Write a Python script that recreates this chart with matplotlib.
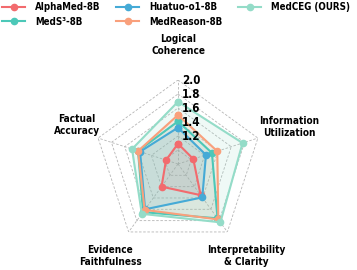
import numpy as np
import matplotlib
matplotlib.use("Agg")
import matplotlib.pyplot as plt
from matplotlib import transforms

categories = ["Logical\nCoherence", "Information\nUtilization", "Interpretability\n& Clarity",
              "Evidence\nFaithfulness", "Factual\nAccuracy"]
models = ["AlphaMed-8B", "MedS³-8B", "Huatuo-o1-8B", "MedReason-8B", "MedCEG (OURS)"]
alphamed = [1.09, 1.03, 1.35, 1.20, 0.98]
meds3 = [1.41, 1.31, 1.76, 1.65, 1.40]
huatuo = [1.32, 1.22, 1.39, 1.60, 1.37]
medreason = [1.50, 1.39, 1.78, 1.61, 1.40]
medceg = [1.69, 1.77, 1.83, 1.68, 1.49]
series = [alphamed, meds3, huatuo, medreason, medceg]
colors = ["#F26B6E", "#4CC8B8", "#45AAD6", "#F9A07C", "#94DCC8"]
rticks = [1.2, 1.4, 1.6, 1.8, 2.0]
rmin, rmax = 0.8, 2.0

plt.rcParams['font.family'] = ['DejaVu Sans']
plt.rcParams['font.stretch'] = 'condensed'
W, H = 357, 270
fig = plt.figure(figsize=(W / 100, H / 100), dpi=100)
cx, cy, R = 178, 164, 84
ax = fig.add_axes([(cx - R) / W, 1 - (cy + R) / H, 2 * R / W, 2 * R / H], projection='polar')
ax.set_theta_offset(np.pi / 2)
ax.set_theta_direction(-1)
ax.set_ylim(rmin, rmax)
ax.grid(False)
ax.spines['polar'].set_visible(False)
ax.set_xticks([])
ax.set_yticks([])
ax.patch.set_alpha(0)

n = len(categories)
angles = np.linspace(0, 2 * np.pi, n, endpoint=False)
closed = np.concatenate([angles, angles[:1]])

for r in [1.0] + rticks:
    ax.plot(closed, [r] * (n + 1), color='#b5b5b5', lw=0.6, ls=(0, (3, 2)), zorder=1)
for a in angles:
    ax.plot([a, a], [rmin, rmax], color='#b5b5b5', lw=0.6, ls=(0, (3, 2)), zorder=1)

for name, vals, c in zip(models, series, colors):
    v = list(vals) + [vals[0]]
    ax.plot(closed, v, color=c, lw=1.5, marker='o', ms=4.5, label=name, zorder=3)
    ax.fill(closed, v, color=c, alpha=0.15, zorder=2)

off = transforms.offset_copy(ax.transData, fig=fig, x=3, y=0, units='points')
for t in rticks:
    ax.text(0, t, f"{t:.1f}", transform=off, ha='left', va='center',
            fontsize=8.3, fontweight='bold', zorder=5)

label_pos = [(178, 45), (289, 127), (246, 256), (110, 256), (77, 125)]
for lab, (x, y) in zip(categories, label_pos):
    fig.text(x / W, 1 - y / H, lab, ha='center', va='center', fontsize=7.2,
             fontweight='bold', linespacing=1.25)

handles, labels = ax.get_legend_handles_labels()
fig.legend(handles, labels, loc='upper left', bbox_to_anchor=(0.0, 1.0), ncol=3,
           frameon=False, prop={'weight': 'bold', 'size': 7},
           handlelength=2.4, columnspacing=1.6, handletextpad=1.0, labelspacing=0.5,
           borderaxespad=0.0, borderpad=0.2)

fig.savefig("out.png", dpi=100)
